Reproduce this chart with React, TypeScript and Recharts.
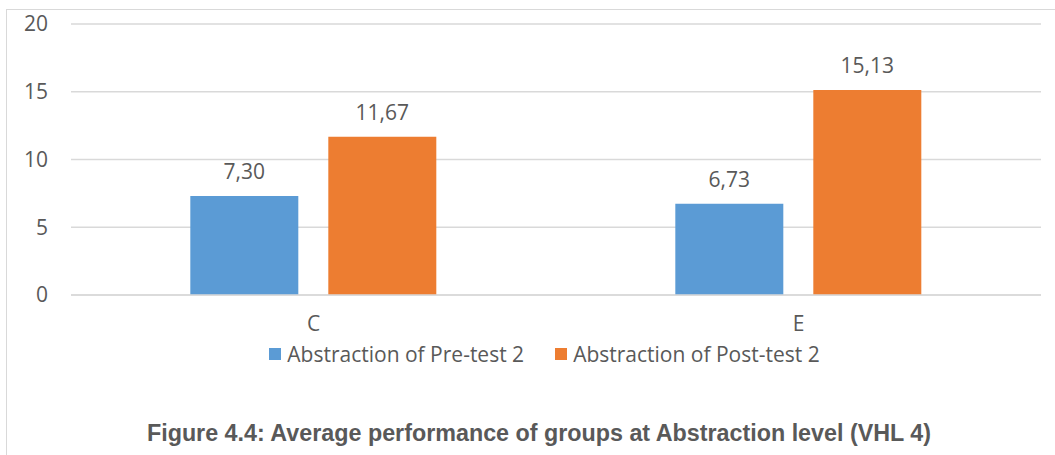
import React from 'react';
import { BarChart, Bar, XAxis, YAxis, CartesianGrid, Legend, LabelList } from 'recharts';

const groups = ['C', 'E'];
const preTest = [7.3, 6.73];
const postTest = [11.67, 15.13];
const yTicks = [0, 5, 10, 15, 20];

const COLORS = {
  pre: '#5B9BD5',
  post: '#ED7D31',
  text: '#595959',
  grid: '#D9D9D9',
};

const FONT = '"Open Sans", Lato, sans-serif';
const FS = 21;

const data = groups.map((g, i) => ({ group: g, pre: preTest[i], post: postTest[i] }));

const fmt = (v: number) => v.toFixed(2).replace('.', ',');

const LegendContent = () => (
  <div
    style={{
      display: 'flex',
      justifyContent: 'center',
      gap: 31,
      paddingLeft: 48,
      fontFamily: FONT,
      fontSize: FS,
      color: COLORS.text,
    }}
  >
    {[
      { name: 'Abstraction of Pre-test 2', color: COLORS.pre },
      { name: 'Abstraction of Post-test 2', color: COLORS.post },
    ].map((item) => (
      <div key={item.name} style={{ display: 'flex', alignItems: 'center' }}>
        <span style={{ width: 12, height: 12, background: item.color, display: 'inline-block', marginRight: 6 }} />
        <span>{item.name}</span>
      </div>
    ))}
  </div>
);

export default function App() {
  return (
    <div style={{ position: 'absolute', left: 0, top: 0, width: 1055, height: 455, background: '#fff', overflow: 'hidden' }}>
      <div
        style={{
          position: 'absolute',
          left: 6,
          top: 9,
          right: -2,
          bottom: -2,
          borderLeft: `1px solid ${COLORS.grid}`,
          borderTop: `1px solid ${COLORS.grid}`,
        }}
      />
      <div style={{ position: 'absolute', left: 0, top: 0 }}>
        <BarChart
          width={1055}
          height={375}
          data={data}
          margin={{ top: 24, right: 14, left: 0, bottom: 5 }}
          barCategoryGap="24.6%"
          barGap={30}
        >
          <CartesianGrid vertical={false} stroke={COLORS.grid} strokeWidth={1.5} />
          <XAxis
            dataKey="group"
            height={45}
            axisLine={{ stroke: COLORS.grid, strokeWidth: 1.5 }}
            tickLine={false}
            tickSize={0}
            tickMargin={21}
            tick={{ fill: COLORS.text, fontSize: FS, fontFamily: FONT }}
          />
          <YAxis
            width={71}
            domain={[0, 20]}
            ticks={yTicks}
            axisLine={false}
            tickLine={false}
            tickSize={0}
            tickMargin={23}
            tick={{ fill: COLORS.text, fontSize: FS, fontFamily: FONT }}
          />
          <Legend verticalAlign="bottom" height={30} content={<LegendContent />} />
          <Bar dataKey="pre" name="Abstraction of Pre-test 2" fill={COLORS.pre} isAnimationActive={false}>
            <LabelList dataKey="pre" position="top" offset={17} formatter={(v: any) => fmt(Number(v))} style={{ fill: COLORS.text, fontSize: FS, fontFamily: FONT }} />
          </Bar>
          <Bar dataKey="post" name="Abstraction of Post-test 2" fill={COLORS.post} isAnimationActive={false}>
            <LabelList dataKey="post" position="top" offset={17} formatter={(v: any) => fmt(Number(v))} style={{ fill: COLORS.text, fontSize: FS, fontFamily: FONT }} />
          </Bar>
        </BarChart>
      </div>
      <div
        style={{
          position: 'absolute',
          left: 0,
          width: 1078,
          top: 420,
          textAlign: 'center',
          fontFamily: '"Liberation Sans", Arial, sans-serif',
          fontWeight: 'bold',
          fontSize: 23.3,
          color: COLORS.text,
        }}
      >
        Figure 4.4: Average performance of groups at Abstraction level (VHL 4)
      </div>
    </div>
  );
}
